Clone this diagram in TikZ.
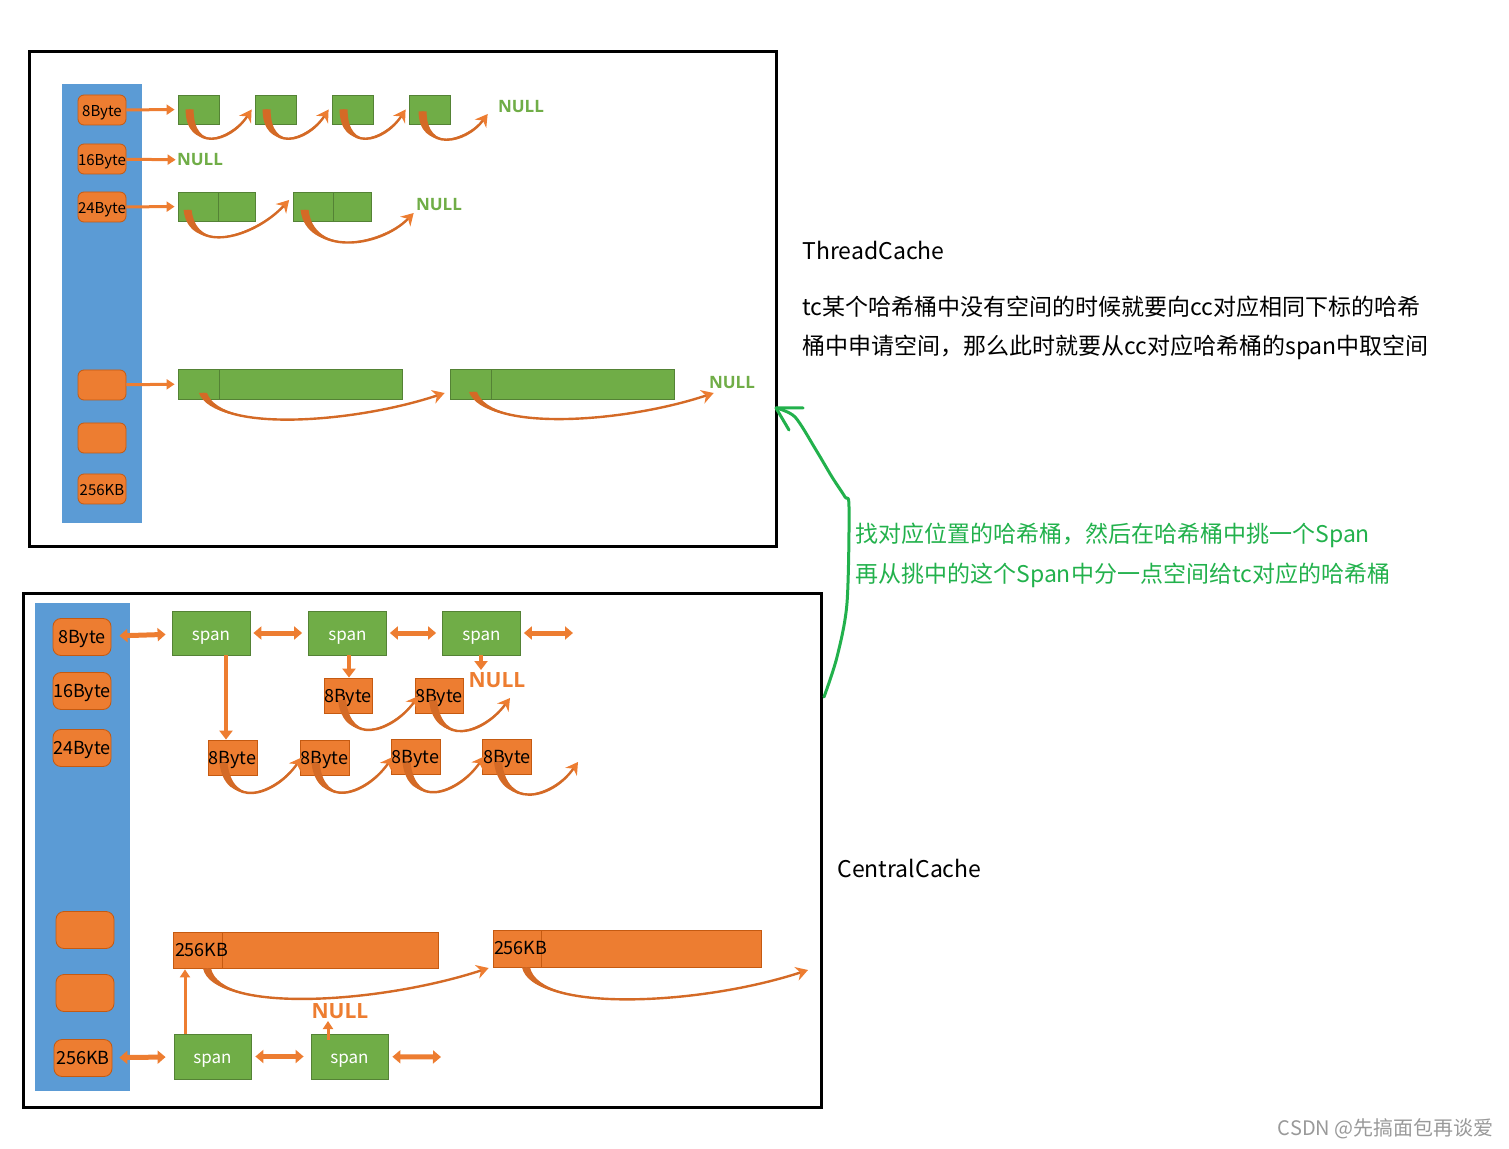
\documentclass[tikz,border=0pt]{standalone}
\usepackage{fontspec}
\setmainfont{Noto Sans CJK SC}
\newfontfamily\nulltxtfont{Open Sans}
\usetikzlibrary{arrows.meta}
\definecolor{bucketorange}{HTML}{ED7D31}
\definecolor{bucketedge}{HTML}{C55A11}
\definecolor{hopdark}{HTML}{D46A26}
\definecolor{cellgreen}{HTML}{70AD47}
\definecolor{celledge}{HTML}{548235}
\definecolor{colblue}{HTML}{5B9BD5}
\definecolor{notegreen}{HTML}{22B14C}
\tikzset{
	frame/.style={draw=black, line width=1.5pt, inner sep=0pt},
	column/.style={fill=colblue, inner sep=0pt},
	tbucket/.style={draw=bucketedge, fill=bucketorange, rounded corners=3pt, inner sep=0pt,
		minimum width=24pt, minimum height=15pt, font=\fontsize{7.5}{8}\selectfont, text height=7pt, text depth=0pt},
	cbucket/.style={draw=bucketedge, fill=bucketorange, rounded corners=4pt, inner sep=0pt,
		minimum width=29pt, minimum height=18.5pt, font=\fontsize{9}{10}\selectfont, text height=6.6pt, text depth=0pt},
	cell/.style={draw=celledge, fill=cellgreen, inner sep=0pt, minimum height=14.5pt},
	spanbox/.style={cell, text=white, font=\fontsize{8.5}{10}\selectfont, text height=7.1pt, text depth=0pt},
	block/.style={draw=bucketedge, fill=bucketorange, inner sep=0pt, font=\fontsize{9}{10}\selectfont,
		text height=6.6pt, text depth=0pt},
	nulltxt/.style={font=\nulltxtfont\bfseries\fontsize{8.5}{9}\selectfont, text=cellgreen, inner sep=0pt},
	cnulltxt/.style={font=\nulltxtfont\bfseries\fontsize{10.5}{11}\selectfont, text=bucketorange, inner sep=0pt},
	link/.style={draw=bucketorange, line width=1.5pt, -{Triangle[length=4pt,width=5pt]}},
	clink/.style={draw=bucketorange, line width=2pt, -{Triangle[length=4.5pt,width=6.5pt]}},
	dlink/.style={draw=bucketorange, line width=2.5pt, {Triangle[length=4pt,width=6.5pt]}-{Triangle[length=4pt,width=6.5pt]},
		shorten <=1.5pt, shorten >=3pt},
	hop/.style={draw=hopdark, line width=1.2pt, -{Stealth[length=6pt,width=7pt, color=bucketorange]}},
	note/.style={anchor=west, inner sep=0pt, font=\fontsize{11.5}{13}\selectfont},
}
\newcommand{\taperhop}[4]{%
	\path (#1) coordinate (hopS) (#4) coordinate (hopE);
	\fill[hopdark] ([xshift=-2pt]hopS) .. controls +#2 and +#3 .. (hopE) .. controls +#3 and +#2 .. ([xshift=2pt]hopS) -- cycle;
	\draw[hop] (hopS) .. controls +#2 and +#3 .. (hopE);
}
\begin{document}
\begin{tikzpicture}[x=0.5pt, y=-0.5pt]
	\useasboundingbox (0,0) rectangle (1509,1149);

	\node[frame, minimum width=373.5pt, minimum height=247.5pt]	(tframe) at (402.5,299.5) {};
	\node[column, minimum width=40pt, minimum height=219.5pt]	(tcol) at (102,303.5) {};

	\node[tbucket]	(tb8) at (102,110) {8Byte};
	\node[tbucket]	(tb16) at (102,159) {16Byte};
	\node[tbucket]	(tb24) at (102,207) {24Byte};
	\node[tbucket]	(tbx1) at (102,385) {};
	\node[tbucket]	(tbx2) at (102,438) {};
	\node[tbucket]	(tb256) at (102,489) {256KB};

	\node[cell, minimum width=20.5pt]	(c1) at (198.5,109.5) {};
	\node[cell, minimum width=20.5pt]	(c2) at (275.5,109.5) {};
	\node[cell, minimum width=20.5pt]	(c3) at (352.5,109.5) {};
	\node[cell, minimum width=20.5pt]	(c4) at (429.5,109.5) {};
	\node[nulltxt]	(tn1) at (521,107) {NULL};
	\node[nulltxt]	(tn2) at (200,160) {NULL};

	\node[cell, minimum width=20pt]	(d1) at (198,206.5) {};
	\node[cell, minimum width=18.5pt]	(d2) at (236.5,206.5) {};
	\node[cell, minimum width=20pt]	(d3) at (313,206.5) {};
	\node[cell, minimum width=19pt]	(d4) at (352,206.5) {};
	\node[nulltxt]	(tn3) at (439,205) {NULL};

	\node[cell, minimum width=20.5pt, minimum height=15pt]	(g1s) at (198.5,384) {};
	\node[cell, minimum width=91.5pt, minimum height=15pt]	(g1) at (310.5,384) {};
	\node[cell, minimum width=20.5pt, minimum height=15pt]	(g2s) at (470.5,384) {};
	\node[cell, minimum width=91.5pt, minimum height=15pt]	(g2) at (582.5,384) {};
	\node[nulltxt]	(tn4) at (732,383) {NULL};

	\draw[link, shorten >=1.5pt]	(tb8) -- (c1);
	\draw[link, shorten >=0.5pt]	(tb16) -- (tn2);
	\draw[link, shorten >=1.5pt]	(tb24) -- (d1);
	\draw[link, shorten >=1.5pt]	(tbx1) -- (g1s);

	\taperhop{[xshift=6pt]c1.west}{(0,42)}{(-22,34)}{[xshift=-1.5pt]c2.west}
	\taperhop{[xshift=6pt]c2.west}{(0,42)}{(-22,34)}{[xshift=-1.5pt]c3.west}
	\taperhop{[xshift=6pt]c3.west}{(0,42)}{(-22,34)}{[xshift=-1.5pt]c4.west}
	\taperhop{[xshift=7pt,yshift=-1pt]c4.west}{(0,40)}{(-22,30)}{[xshift=-5pt,yshift=-3.5pt]tn1.west}

	\taperhop{[xshift=5pt,yshift=-1.75pt]d1.west}{(5,45)}{(-35,38)}{[xshift=-1.75pt,yshift=3.25pt]d3.west}
	\taperhop{[xshift=6pt,yshift=-1.75pt]d3.west}{(5,45)}{(-35,36)}{[xshift=-1pt,yshift=-4pt]tn3.west}

	\taperhop{[xshift=2.25pt,yshift=-4.5pt]g1s.center}{(15,40)}{(-90,30)}{[xshift=-2.5pt,yshift=-4.5pt]g2s.west}
	\taperhop{[xshift=1.25pt,yshift=-4pt]g2s.center}{(15,40)}{(-90,30)}{[xshift=2.5pt,yshift=-5pt]tn4.west}

	\node[anchor=west, inner sep=0pt, font=\fontsize{11.5}{14}\selectfont]	(tctitle) at (802,251) {ThreadCache};
	\node[note]	(tcl1) at (802,307) {tc某个哈希桶中没有空间的时候就要向cc对应相同下标的哈希};
	\node[note]	(tcl2) at (802,347) {桶中申请空间，那么此时就要从cc对应哈希桶的span中取空间};

	\node[frame, minimum width=399pt, minimum height=257pt]	(cframe) at (422,850) {};
	\node[column, minimum width=47.5pt, minimum height=244pt]	(ccol) at (82.5,847) {};

	\node[cbucket]	(cb8) at (82,637) {8Byte};
	\node[cbucket]	(cb16) at (82,691) {16Byte};
	\node[cbucket]	(cb24) at (82,748) {24Byte};
	\node[cbucket]	(cbx1) at (85,930) {};
	\node[cbucket]	(cbx2) at (85,993) {};
	\node[cbucket]	(cb256) at (83,1058) {256KB};

	\node[spanbox, minimum width=39pt, minimum height=22pt]	(s1) at (211,633) {span};
	\node[spanbox, minimum width=39pt, minimum height=22pt]	(s2) at (347.5,633) {span};
	\node[spanbox, minimum width=39pt, minimum height=22pt]	(s3) at (481.5,633) {span};
	\coordinate	(sf) at (573,633);

	\node[block, minimum width=24pt, minimum height=17.5pt]	(m1) at (348,695.5) {8Byte};
	\node[block, minimum width=24pt, minimum height=17.5pt]	(m2) at (439,696) {8Byte};
	\node[cnulltxt]	(cn1) at (497,680) {NULL};

	\node[block, minimum width=24.5pt, minimum height=17.5pt]	(e1) at (232.5,757.5) {8Byte};
	\node[block, minimum width=24.5pt, minimum height=17.5pt]	(e2) at (324.5,757.5) {8Byte};
	\node[block, minimum width=24.5pt, minimum height=17.5pt]	(e3) at (415.5,757) {8Byte};
	\node[block, minimum width=24.5pt, minimum height=17.5pt]	(e4) at (507,756.5) {8Byte};
	\coordinate	(ef) at (578,762);

	\draw[dlink, shorten <=4pt]	(cb8) -- (s1);
	\draw[dlink]	(s1) -- (s2);
	\draw[dlink]	(s2) -- (s3);
	\draw[dlink, shorten >=0pt]	(s3) -- (sf);

	\draw[clink]	([xshift=7.5pt]s1.south) -- ([xshift=-3.25pt]e1.north);
	\draw[clink]	([xshift=0.75pt]s2.south) -- ([xshift=0.5pt]m1.north);
	\draw[clink]	([xshift=-0.25pt]s3.south) -- ([xshift=-8pt,yshift=1pt]cn1.north);

	\taperhop{[xshift=-3pt,yshift=-2.25pt]m1.center}{(5,45)}{(-28,38)}{[xshift=2pt]m2.west}
	\taperhop{[xshift=-3pt,yshift=-2.25pt]m2.center}{(5,45)}{(-28,38)}{[xshift=6.5pt,yshift=-5pt]cn1.south}

	\taperhop{[xshift=-4.5pt,yshift=-2.75pt]e1.center}{(5,45)}{(-28,40)}{[xshift=1pt]e2.west}
	\taperhop{[xshift=-4.5pt,yshift=-2.75pt]e2.center}{(5,45)}{(-28,40)}{[xshift=1pt]e3.west}
	\taperhop{[xshift=-4.5pt,yshift=-2.75pt]e3.center}{(5,45)}{(-28,40)}{[xshift=1pt]e4.west}
	\taperhop{[xshift=-4.5pt,yshift=-2.75pt]e4.center}{(5,45)}{(-28,40)}{ef}

	\node[block, minimum width=108pt, minimum height=18pt]	(k1) at (330,950) {};
	\node[block, minimum width=24.5pt, minimum height=18pt, label={[anchor=west, inner sep=1pt, font=\fontsize{9}{10}\selectfont]west:256KB}]	(k1s) at (197.5,950) {};
	\node[block, minimum width=110pt, minimum height=18.5pt]	(k2) at (651,948.5) {};
	\node[block, minimum width=24pt, minimum height=18.5pt, label={[anchor=west, inner sep=0.5pt, font=\fontsize{9}{10}\selectfont]west:256KB}]	(k2s) at (517,948.5) {};
	\coordinate	(kf) at (808,970);

	\taperhop{[xshift=4.75pt]k1s.south}{(10,45)}{(-110,36)}{[xshift=-2pt,yshift=-9.75pt]k2s.west}
	\taperhop{[xshift=4.5pt]k2s.south}{(10,45)}{(-110,36)}{kf}

	\node[spanbox, minimum width=38.5pt, minimum height=22.5pt]	(t1) at (212.5,1056.5) {span};
	\node[spanbox, minimum width=38.5pt, minimum height=22.5pt]	(t2) at (349.5,1056.5) {span};
	\coordinate	(tf) at (441,1057);
	\node[cnulltxt]	(cn2) at (340,1011) {NULL};

	\draw[dlink, shorten <=3.5pt, shorten >=4pt]	(cb256) -- (t1);
	\draw[dlink, shorten <=2pt, shorten >=3.5pt]	(t1) -- (t2);
	\draw[dlink, shorten <=2pt, shorten >=0pt]	(t2) -- (tf);

	\coordinate	(u1) at ([xshift=-13.75pt]t1.north);
	\draw[link, shorten >=0.5pt]	(u1) -- (u1 |- k1s.south);
	\coordinate	(u2) at ([xshift=-10.75pt,yshift=-3pt]t2.north);
	\draw[link, shorten >=1pt]	(u2) -- (u2 |- cn2.south);

	\node[anchor=west, inner sep=0pt, font=\fontsize{11.5}{14}\selectfont]	(cctitle) at (837,868) {CentralCache};

	\draw[notegreen, line width=1.5pt, line cap=round, line join=round]
		plot[smooth] coordinates {(824,697) (837,657) (847,603) (849,507) (845,497) (832,477) (816,450) (795,417) (776,408)};
	\draw[notegreen, line width=1.5pt, line cap=round]	(776,408) -- (803,408)
											(776,408) -- (789,430);

	\node[note, text=notegreen]	(gn1) at (855,535) {找对应位置的哈希桶，然后在哈希桶中挑一个Span};
	\node[note, text=notegreen]	(gn2) at (855,575) {再从挑中的这个Span中分一点空间给tc对应的哈希桶};

	\node[anchor=east, inner sep=0pt, text=black!40, font=\fontsize{10}{12}\selectfont]	(mark) at (1494,1129) {CSDN @先搞面包再谈爱};
\end{tikzpicture}
\end{document}
